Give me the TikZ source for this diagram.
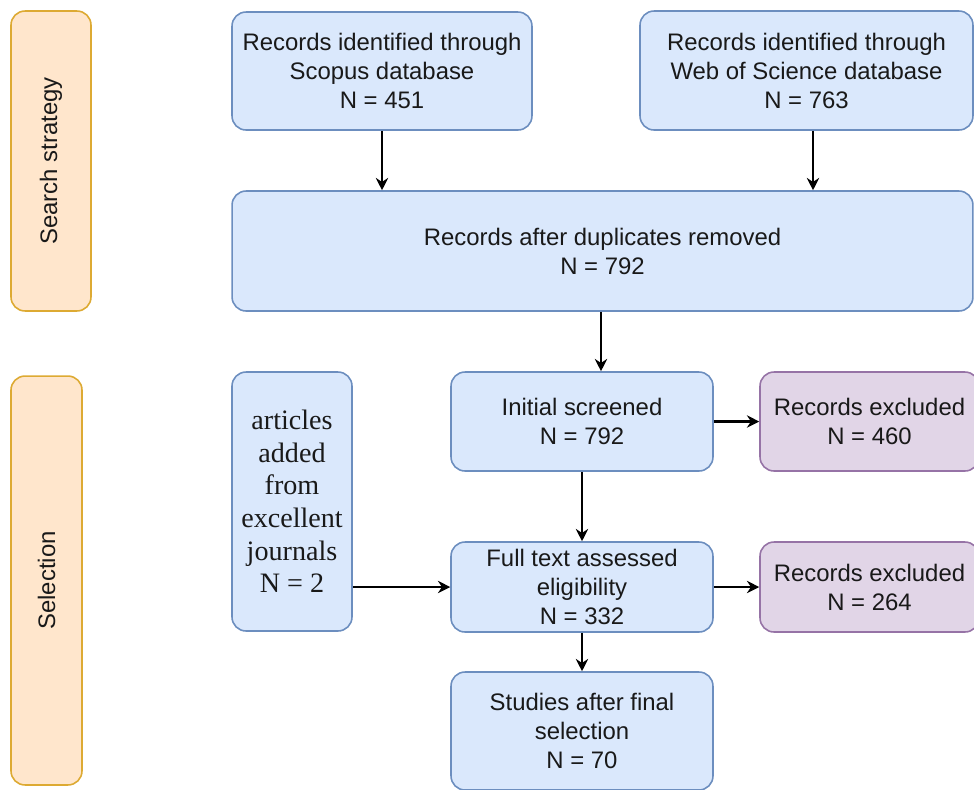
\documentclass[tikz,border=0pt]{standalone}
\usepackage{fontspec}
\setmainfont{Liberation Sans}
\newfontfamily\serifbox{Liberation Serif}
\usepackage{tikz}
\usetikzlibrary{arrows.meta,shapes,calc}
\usepackage{xcolor}

\definecolor{boxblue}{HTML}{DAE8FC}
\definecolor{lineblue}{HTML}{6C8EBF}
\definecolor{boxorange}{HTML}{FFE6CC}
\definecolor{lineorange}{HTML}{DDAA33}
\definecolor{boxpurple}{HTML}{E1D5E7}
\definecolor{linepurple}{HTML}{9673A6}

\begin{document}
\begin{tikzpicture}[x=0.02cm, y=-0.02cm,
    every node/.style={font=\fontsize{13.6}{16.5}\selectfont, text=black!90, align=center, inner sep=0pt},
    flow/.style={rectangle, rounded corners=0.28cm, draw=lineblue, fill=boxblue, line width=0.9pt},
    phase/.style={rectangle, rounded corners=0.28cm, draw=lineorange, fill=boxorange, line width=0.9pt},
    excl/.style={rectangle, rounded corners=0.28cm, draw=linepurple, fill=boxpurple, line width=0.9pt},
    arr/.style={-{Stealth[length=7pt,width=7pt]}, line width=1.2pt, black}]
    \useasboundingbox (0,0) rectangle (974,789);

    % Phase labels on the left
    \node[phase, minimum width=1.6cm, minimum height=6cm] (search) at (51,161) {};
    \node[rotate=90] at (search) {Search strategy};
    \node[phase, minimum width=1.42cm, minimum height=8.18cm] (select) at (46.5,580.5) {};
    \node[rotate=90] at (select) {Selection};

    % Identification
    \node[flow, minimum width=6cm, minimum height=2.36cm] (scopus) at (382,71)
        {Records identified through\\Scopus database\\N = 451};
    \node[flow, minimum width=6.66cm, minimum height=2.38cm] (wos) at (806.5,70.5)
        {Records identified through\\Web of Science database\\N = 763};
    \node[flow, minimum width=14.82cm, minimum height=2.4cm] (dup) at (602.5,251)
        {Records after duplicates removed\\N = 792};

    % Screening
    \node[flow, minimum width=2.4cm, minimum height=5.18cm,
          font=\serifbox\fontsize{16}{18.6}\selectfont] (added) at (292,501.5)
        {articles\\added\\from\\excellent\\journals\\N = 2};
    \node[flow, minimum width=5.24cm, minimum height=1.98cm] (init) at (582,421.5)
        {Initial screened\\N = 792};
    \node[excl, minimum width=4.38cm, minimum height=1.98cm] (excl1) at (869.5,421.5)
        {Records excluded\\N = 460};
    \node[flow, minimum width=5.24cm, minimum height=1.8cm] (full) at (582,587)
        {Full text assessed\\eligibility\\N = 332};
    \node[excl, minimum width=4.38cm, minimum height=1.8cm] (excl2) at (869.5,587)
        {Records excluded\\N = 264};
    \node[flow, minimum width=5.24cm, minimum height=2.36cm] (final) at (582,731)
        {Studies after final\\selection\\N = 70};

    % Arrows
    \draw[arr] (scopus.south) -- (scopus.south |- dup.north);
    \draw[arr] ([xshift=0.13cm]wos.south) -- ([xshift=0.13cm]wos.south |- dup.north);
    \draw[arr] ([xshift=0.38cm]dup.south -| init.north) -- ([xshift=0.38cm]init.north);
    \draw[arr] (init) -- (excl1);
    \draw[arr] (init) -- (full);
    \draw[arr] (full) -- (excl2);
    \draw[arr] (added.east |- full.west) -- (full.west);
    \draw[arr] (full) -- (final);
\end{tikzpicture}
\end{document}
